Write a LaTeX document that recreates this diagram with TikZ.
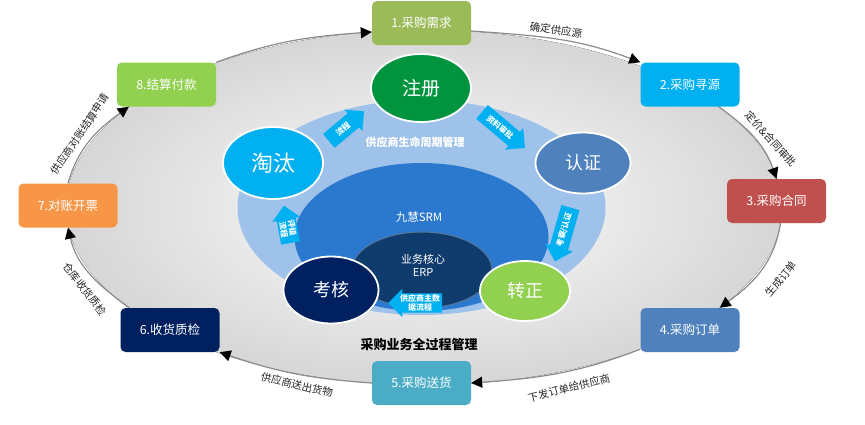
\documentclass[tikz,border=0pt]{standalone}
\usepackage{fontspec}
\usetikzlibrary{arrows.meta,shapes.geometric,shapes.arrows}
\newfontfamily\cjk{Noto Sans CJK SC}
\definecolor{Ink}{HTML}{262626}
\definecolor{FlowGray}{HTML}{8C8C8C}
\definecolor{StepOlive}{HTML}{9BBB59}
\definecolor{StepCyan}{HTML}{00B0F0}
\definecolor{StepRed}{HTML}{C0504D}
\definecolor{StepBlue}{HTML}{4F81BD}
\definecolor{StepTeal}{HTML}{4BACC6}
\definecolor{StepNavy}{HTML}{002060}
\definecolor{StepOrange}{HTML}{F79646}
\definecolor{StepGreen}{HTML}{92D050}
\definecolor{RingBlue}{HTML}{9FC2EA}
\definecolor{SrmBlue}{HTML}{2B79CF}
\definecolor{ErpBlue}{HTML}{0F3C6C}
\definecolor{RegGreen}{HTML}{00943E}
\newcommand{\fsz}[1]{\fontsize{#1}{#1}\selectfont}

\tikzset{
  stepbox/.style={rounded corners=5pt,minimum width=99pt,minimum height=44pt,
    text=white,font=\cjk\fsz{12.5}},
  flow/.style={draw=FlowGray,line width=1.2pt,
    -{Triangle[length=11pt,width=11pt,color=black]}},
  flowlabel/.style={font=\cjk\fsz{10.5},text=Ink,inner sep=1pt},
  phase/.style={ellipse,draw=white,line width=1.8pt,text=white,inner sep=0pt},
  minorarrow/.style={single arrow,fill=StepCyan,text=white,inner xsep=1.5pt,inner ysep=5pt,
    single arrow head extend=5pt,align=center,font=\cjk\bfseries\fsz{8}},
  twoline/.style={inner ysep=1.2pt,single arrow head extend=4.5pt,
    font=\cjk\bfseries\fontsize{8}{8.6}\selectfont},
}

\begin{document}
\begin{tikzpicture}[x=1pt,y=1pt]
  \useasboundingbox (0,0) rectangle (865,-424);

  \fill[inner color=white,outer color=black!16] (424,-207.5) ellipse [x radius=358pt,y radius=177.5pt];

  \node[stepbox,fill=StepOlive]  (b1) at (421.5,-23)   {1.采购需求};
  \node[stepbox,fill=StepCyan]   (b2) at (690,-84.5)   {2.采购寻源};
  \node[stepbox,fill=StepRed]    (b3) at (776.5,-201)  {3.采购合同};
  \node[stepbox,fill=StepBlue]   (b4) at (690,-330)    {4.采购订单};
  \node[stepbox,fill=StepTeal]   (b5) at (421.5,-383)  {5.采购送货};
  \node[stepbox,fill=StepNavy]   (b6) at (170,-330)    {6.收货质检};
  \node[stepbox,fill=StepOrange] (b7) at (68,-205.5)   {7.对账开票};
  \node[stepbox,fill=StepGreen]  (b8) at (166.5,-84.5) {8.结算付款};

  \draw[flow] ([yshift=-8pt]b1.east) to[out=-4,in=159] (b2.north west);
  \draw[flow] ([xshift=-21pt]b2.south east) to[out=-36,in=109] (b3.north);
  \draw[flow] ([xshift=4pt]b3.south) to[out=-99,in=36] ([xshift=-20pt]b4.north east);
  \draw[flow] ([yshift=3pt]b4.south west) to[out=-159,in=4] (b5.east);
  \draw[flow] (b5.west) to[out=176,in=-19] (b6.south east);
  \draw[flow] ([xshift=9pt]b6.north west) to[out=144,in=-77] (b7.south);
  \draw[flow] (b7.north) to[out=74,in=-144] ([xshift=12pt]b8.south west);
  \draw[flow] (b8.north east) to[out=20,in=184] ([yshift=-9pt]b1.west);

  \node[flowlabel,rotate=-8]  (l12) at (556,-30)  {确定供应源};
  \node[flowlabel,rotate=-48] (l23) at (771,-139) {定价\&合同审批};
  \node[flowlabel,rotate=50]  (l34) at (781,-279) {生成订单};
  \node[flowlabel,rotate=14]  (l45) at (569,-388) {下发订单给供应商};
  \node[flowlabel,rotate=-13] (l56) at (297,-385) {供应商送出货物};
  \node[flowlabel,rotate=-52] (l67) at (85,-289)  {仓库收货质检};
  \node[flowlabel,rotate=56]  (l78) at (80,-134)  {供应商对账结算申请};

  \fill[RingBlue] (421.5,-207.5) ellipse [x radius=184pt,y radius=107.5pt];
  \fill[SrmBlue] (421.5,-237) ellipse [x radius=127pt,y radius=74pt];
  \draw[ErpBlue!70!white,line width=1pt,fill=ErpBlue] (422,-270) ellipse [x radius=70pt,y radius=38pt];

  \node[font=\cjk\bfseries\fsz{11},text=white] (cycle) at (415,-142) {供应商生命周期管理};
  \node[font=\cjk\fsz{11.5},text=white] (srm) at (419,-217) {九慧SRM};
  \node[font=\cjk\fsz{11},text=white,align=center] (erp) at (423,-265) {业务核心\\[2pt]ERP};

  \node[phase,fill=RegGreen,minimum width=100pt,minimum height=68pt,font=\cjk\fsz{19}] (reg) at (421,-88) {注册};
  \node[phase,fill=StepCyan,minimum width=100pt,minimum height=72pt,font=\cjk\fsz{22}] (out) at (273,-163) {淘汰};
  \node[phase,fill=StepBlue,minimum width=95pt,minimum height=61pt,font=\cjk\fsz{18}] (cert) at (583,-163) {认证};
  \node[phase,fill=StepNavy,minimum width=95pt,minimum height=67pt,font=\cjk\fsz{18}] (eval) at (331,-290) {考核};
  \node[phase,fill=StepGreen,minimum width=90pt,minimum height=60pt,font=\cjk\fsz{18}] (formal) at (525,-291) {转正};

  \node[minorarrow,rotate=40,minimum height=46pt] (a1) at (343,-129) {流程};
  \node[minorarrow,rotate=-40,minimum height=56pt] (a2) at (500,-127) {资料审批};
  \node[minorarrow,rotate=74,shape border rotate=180,minimum height=56pt] (a3) at (564,-230) {考察/认证};
  \node[minorarrow,twoline,shape border rotate=180,minimum height=54pt] (a4) at (420,-303) {供应商主数\\据流程};
  \node[minorarrow,twoline,rotate=-80,shape border rotate=180,minimum height=38pt] (a5) at (288,-229) {评级\\流程};

  \node[font=\cjk\bfseries\fsz{13},text=black] (whole) at (419,-345) {采购业务全过程管理};
\end{tikzpicture}
\end{document}
